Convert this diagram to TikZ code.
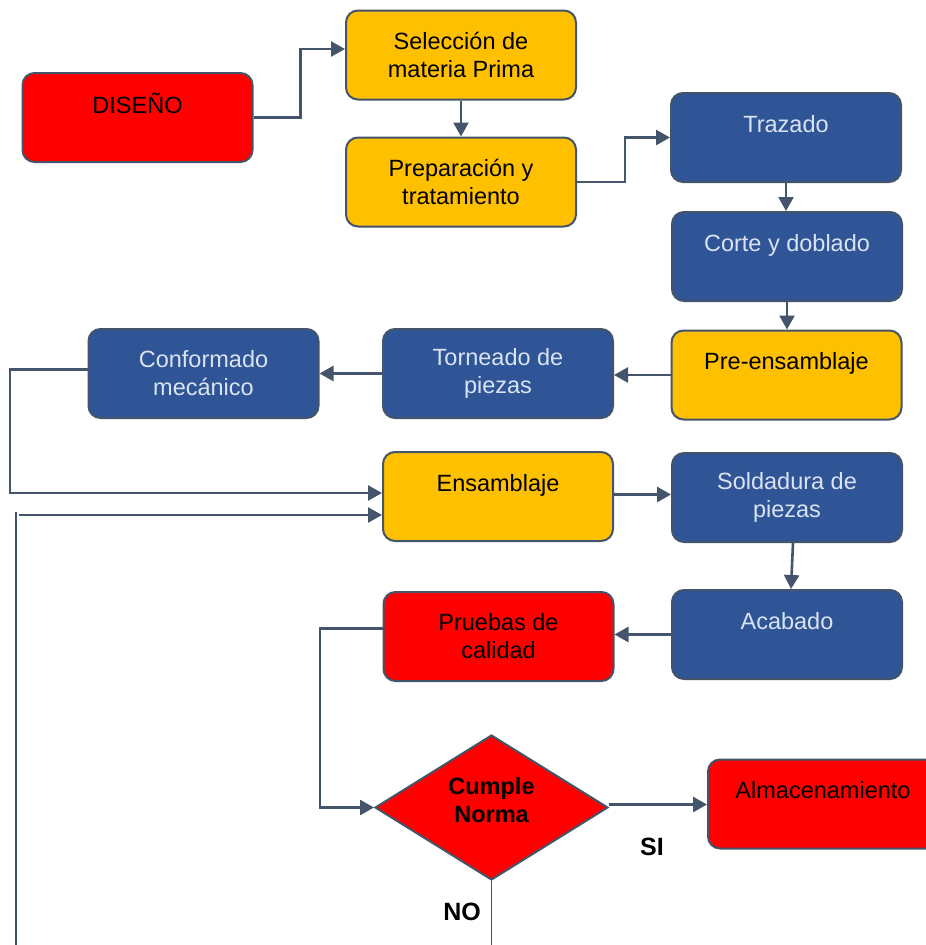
\documentclass[tikz,border=0pt]{standalone}
\usepackage{fontspec}
\setmainfont{Liberation Sans}
\usetikzlibrary{shapes.geometric,arrows.meta,calc}
\definecolor{rojo}{RGB}{255,0,0}
\definecolor{amarillo}{RGB}{255,192,0}
\definecolor{azul}{RGB}{47,85,151}
\definecolor{borde}{RGB}{68,84,106}
\definecolor{textoazul}{RGB}{218,227,243}
\begin{document}
\begin{tikzpicture}[x=1pt,y=-1pt,
  caja/.style={draw=borde, line width=2pt, rounded corners=12pt, minimum width=230pt, minimum height=89pt, align=center, inner sep=2pt, font=\fontsize{23.5}{28}\selectfont},
  cajaroja/.style={caja, fill=rojo, text=black},
  cajaamarilla/.style={caja, fill=amarillo, text=black},
  cajaazul/.style={caja, fill=azul, text=textoazul},
  flecha/.style={draw=borde, line width=2.6pt, -{Triangle[length=14pt,width=15pt]}},
  linea/.style={draw=borde, line width=1.5pt},
  etiqueta/.style={font=\fontsize{25}{28}\selectfont\bfseries, text=black}
]
\useasboundingbox (0,0) rectangle (926,945);
\clip (0,0) rectangle (926,945);
\fill[white] (0,0) rectangle (926,945);

\node[cajaroja] (dis) at (137.5,117.5) {DISEÑO\\\mbox{}};
\node[cajaamarilla] (sel) at (461,55) {Selección de\\materia Prima};
\node[cajaamarilla] (prep) at (461,182) {Preparación y\\tratamiento};
\node[cajaazul] (traz) at (786,137.5) {Trazado\\\mbox{}};
\node[cajaazul] (corte) at (787,256.5) {Corte y doblado\\\mbox{}};
\node[cajaamarilla] (pre) at (786.5,375) {Pre-ensamblaje\\\mbox{}};
\node[cajaazul] (torn) at (498,373.5) {Torneado de\\piezas};
\node[cajaazul] (conf) at (203.5,373.5) {Conformado\\mecánico};
\node[cajaamarilla] (ens) at (498,496.5) {Ensamblaje\\\mbox{}};
\node[cajaazul] (sold) at (787,497.5) {Soldadura de\\piezas};
\node[cajaazul] (acab) at (787,634.5) {Acabado\\\mbox{}};
\node[cajaroja] (prue) at (498.5,636.5) {Pruebas de\\calidad};
\node[draw=borde, line width=2pt, fill=rojo, diamond, aspect=1.6, minimum width=233pt, minimum height=145pt, inner sep=0pt] (dec) at (491.5,807.5) {};
\node[align=center, font=\fontsize{23.5}{28}\selectfont\bfseries, text=black] (dectexto) at (491.5,800) {Cumple\\Norma};
\node[cajaroja] (alm) at (823,804) {Almacenamiento\\\mbox{}};

\node[etiqueta] (si) at (652,847) {SI};
\node[etiqueta] (no) at (462,912) {NO};

\coordinate (bajoA) at (16,945);
\coordinate (bajoB) at (16,512);
\coordinate (inicioB) at (19,515);
\coordinate (finNo) at (491.5,945);
\coordinate (ensE) at ($(ens.east)+(0,-2)$);
\coordinate (decE) at ($(dec.east)+(0,-3)$);

\draw[flecha] (dis.east) -- ++(47,0) |- ($(sel.west)+(0,-6)$);
\draw[flecha] (sel.south) -- (prep.north);
\draw[flecha] (prep.east) -- ++(48,0) |- (traz.west);
\draw[flecha] (traz.south) -- (traz.south |- corte.north);
\draw[flecha] (corte.south) -- (corte.south |- pre.north);
\draw[flecha] (pre.west) -- (pre.west -| torn.east);
\draw[flecha] (torn.west) -- (torn.west -| conf.east);
\draw[flecha] ($(conf.west)+(0,-4)$) -| (10,493) -- ($(ens.west)+(0,-3.5)$);
\draw[linea] (bajoA) -- (bajoB);
\draw[flecha] (inicioB) -- ($(ens.west)+(0,18.5)$);
\draw[flecha] (ensE) -- (ensE -| sold.west);
\draw[flecha] ($(sold.south)+(6,0)$) -- ($(acab.north)+(4,0)$);
\draw[flecha] (acab.west) -- (acab.west -| prue.east);
\draw[flecha] ($(prue.west)+(0,-8)$) -| (320,807.5) -- (dec.west);
\draw[flecha] (decE) -- (decE -| alm.west);
\draw[linea] (dec.south) -- (finNo);
\end{tikzpicture}
\end{document}
